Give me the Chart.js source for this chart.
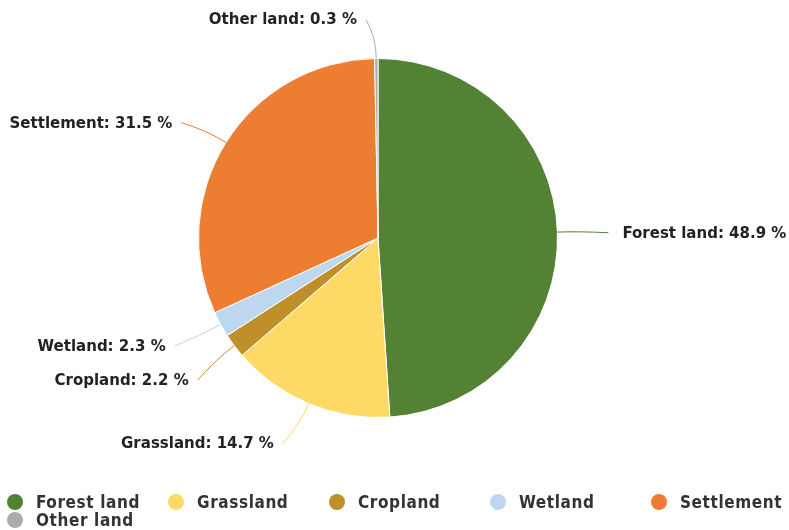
<!DOCTYPE html>
<html>
<head>
<meta charset="utf-8">
<script src="https://cdn.jsdelivr.net/npm/chart.js@4/dist/chart.umd.min.js"></script>
<style>
  body { margin: 0; background: #fff; }
  #wrap { position: relative; width: 789px; height: 530px; overflow: hidden; }
  #chart { position: absolute; left: 0; top: 0; }
  #legend { position: absolute; left: 7px; top: 493px; width: 900px; white-space: nowrap;
            font-family: "DejaVu Sans Condensed", "DejaVu Sans", sans-serif; font-weight: bold;
            font-size: 17px; letter-spacing: 0.6px; color: #333; line-height: 18px; }
  .item { display: inline-block; width: 161px; height: 18px; }
  .dot { display: inline-block; width: 16px; height: 16px; border-radius: 50%; vertical-align: -2px; margin-right: 13px; }
</style>
</head>
<body>
<div id="wrap">
  <canvas id="chart" width="789" height="530"></canvas>
  <div id="legend"></div>
</div>
<script>
const categories = ['Forest land', 'Grassland', 'Cropland', 'Wetland', 'Settlement', 'Other land'];
const shares = [48.9, 14.7, 2.2, 2.3, 31.5, 0.3];
const colors = ['#548235', '#ffd966', '#bf8f2a', '#bdd7ee', '#ed7d31', '#aeaaaa'];

// outside labels with soft connectors, like the original
const pieLabels = {
    id: 'pieLabels',
    afterDatasetsDraw(chart) {
        const ctx = chart.ctx;
        const arcs = chart.getDatasetMeta(0).data;
        const dist = 41, minGap = 34;
        const items = arcs.map((arc, i) => {
            const mid = (arc.startAngle + arc.endAngle) / 2;
            const r = arc.outerRadius;
            return {
                i, mid, r, cx: arc.x, cy: arc.y,
                left: Math.cos(mid) < 0,
                ey: arc.y + r * Math.sin(mid), ex: arc.x + r * Math.cos(mid),
                y: arc.y + (r + dist) * Math.sin(mid)
            };
        });
        [true, false].forEach(side => {
            const s = items.filter(it => it.left === side).sort((a, b) => a.y - b.y);
            for (let k = 1; k < s.length; k++) {
                if (s[k].y - s[k - 1].y < minGap) s[k].y = s[k - 1].y + minGap;
            }
        });
        ctx.save();
        ctx.font = 'bold 15px "DejaVu Sans", sans-serif';
        ctx.textBaseline = 'middle';
        items.forEach(it => {
            const R = it.r + dist;
            const dy = it.y - it.cy;
            const ax = it.cx + (it.left ? -1 : 1) * Math.sqrt(Math.max(0, R * R - dy * dy));
            const endX = ax + (it.left ? -10 : 10);
            const ly = it.y + 2;
            const bx = it.cx + (it.r + 22) * Math.cos(it.mid);
            const by = it.cy + (it.r + 22) * Math.sin(it.mid);
            ctx.strokeStyle = colors[it.i];
            ctx.lineWidth = 1;
            ctx.beginPath();
            ctx.moveTo(endX, ly);
            ctx.quadraticCurveTo(bx, by, it.ex, it.ey);
            ctx.stroke();
            ctx.fillStyle = '#222';
            ctx.textAlign = it.left ? 'right' : 'left';
            ctx.fillText(categories[it.i] + ': ' + shares[it.i] + ' %', endX + (it.left ? -9 : 14), ly + 1);
        });
        ctx.restore();
    }
};

const ctx = document.getElementById('chart').getContext('2d');
new Chart(ctx, {
    type: 'pie',
    data: {
        labels: categories,
        datasets: [{
            data: shares,
            backgroundColor: colors,
            borderColor: '#ffffff',
            borderWidth: 1
        }]
    },
    options: {
        responsive: false,
        animation: false,
        layout: { padding: { top: 58, bottom: 112, left: 0, right: 33 } },
        plugins: {
            legend: { display: false },
            tooltip: { enabled: false }
        }
    },
    plugins: [pieLabels]
});

const legend = document.getElementById('legend');
categories.forEach((name, i) => {
    const item = document.createElement('span');
    item.className = 'item';
    item.innerHTML = '<span class="dot" style="background:' + colors[i] + '"></span>' + name;
    legend.appendChild(item);
    if (i === 4) legend.appendChild(document.createElement('br'));
});
</script>
</body>
</html>
